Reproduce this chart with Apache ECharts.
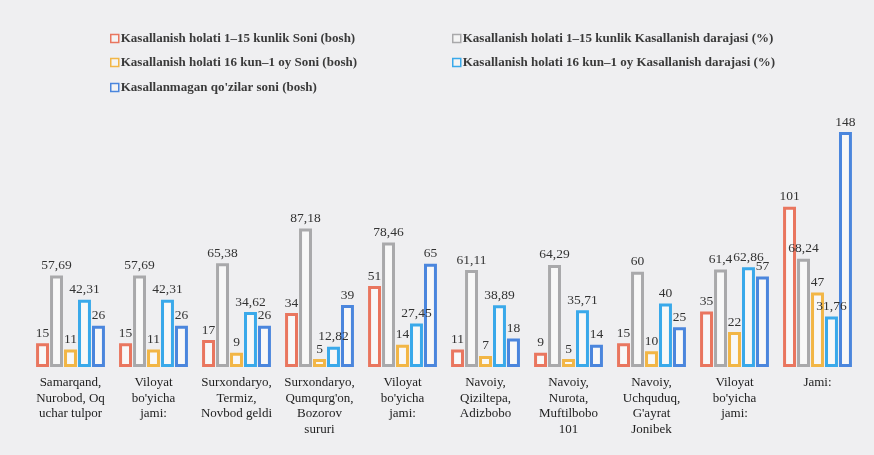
<!DOCTYPE html>
<html>
<head>
<meta charset="utf-8">
<script src="https://cdn.jsdelivr.net/npm/echarts@6/dist/echarts.min.js"></script>
<style>
html,body{margin:0;padding:0;background:#efeff1;}
#c{width:874px;height:455px;}
</style>
</head>
<body>
<div id="c"></div>
<script>
var categories = [
  "Samarqand,\nNurobod, Oq\nuchar tulpor",
  "Viloyat\nbo'yicha\njami:",
  "Surxondaryo,\nTermiz,\nNovbod geldi",
  "Surxondaryo,\nQumqurg'on,\nBozorov\nsururi",
  "Viloyat\nbo'yicha\njami:",
  "Navoiy,\nQiziltepa,\nAdizbobo",
  "Navoiy,\nNurota,\nMuftilbobo\n101",
  "Navoiy,\nUchquduq,\nG'ayrat\nJonibek",
  "Viloyat\nbo'yicha\njami:",
  "Jami:"
];
var seriesNames = [
  "Kasallanish holati 1–15 kunlik Soni (bosh)",
  "Kasallanish holati 1–15 kunlik Kasallanish darajasi (%)",
  "Kasallanish holati 16 kun–1 oy Soni (bosh)",
  "Kasallanish holati 16 kun–1 oy Kasallanish darajasi (%)",
  "Kasallanmagan qo'zilar soni (bosh)"
];
var soni1_15 =      [15, 15, 17, 34, 51, 11, 9, 15, 35, 101];
var daraja1_15 =    [57.69, 57.69, 65.38, 87.18, 78.46, 61.11, 64.29, 60, 61.4, 68.24];
var soni16_30 =     [11, 11, 9, 5, 14, 7, 5, 10, 22, 47];
var daraja16_30 =   [42.31, 42.31, 34.62, 12.82, 27.45, 38.89, 35.71, 40, 62.86, 31.76];
var kasallanmagan = [26, 26, 26, 39, 65, 18, 14, 25, 57, 148];

var colors = ['#e9765f', '#a9a9ab', '#f2b646', '#3aa9ea', '#4b86dd'];
var values = [soni1_15, daraja1_15, soni16_30, daraja16_30, kasallanmagan];

var serif = '"Liberation Serif", "DejaVu Serif", serif';

var series = values.map(function (v, i) {
  return {
    name: seriesNames[i],
    type: 'bar',
    data: v,
    barGap: '8%',
    barCategoryGap: '17%',
    itemStyle: { color: '#f8f8f8', borderColor: colors[i], borderWidth: 3 },
    label: {
      show: true, position: 'top', distance: 3,
      fontFamily: serif, fontSize: 13.5, color: '#333',
      formatter: function (p) { return String(p.value).replace('.', ','); }
    }
  };
});

var legendPos = [[105, 27], [447, 27], [105, 51], [447, 51], [105, 76]];
var legends = seriesNames.map(function (n, i) {
  return {
    data: [n], left: legendPos[i][0], top: legendPos[i][1],
    itemWidth: 8, itemHeight: 8, itemGap: 2,
    icon: 'rect',
    textStyle: { fontFamily: serif, fontSize: 13, fontWeight: 'bold', color: '#3a3a3a', padding: [0, 0, 0, -3] },
    itemStyle: { color: '#f4f4f4', borderColor: colors[i], borderWidth: 1.5 }
  };
});

var chart = echarts.init(document.getElementById('c'));
chart.setOption({
  backgroundColor: '#efeff1',
  animation: false,
  color: colors,
  legend: legends,
  grid: { left: 29, right: 15, top: 113, bottom: 88 },
  xAxis: {
    type: 'category', data: categories,
    axisLine: { show: false }, axisTick: { show: false },
    axisLabel: { interval: 0, margin: 8, fontFamily: serif, fontSize: 13, lineHeight: 15.5, color: '#222' }
  },
  yAxis: { type: 'value', min: 0, max: 160, show: false, splitLine: { show: false } },
  series: series
});
</script>
</body>
</html>
